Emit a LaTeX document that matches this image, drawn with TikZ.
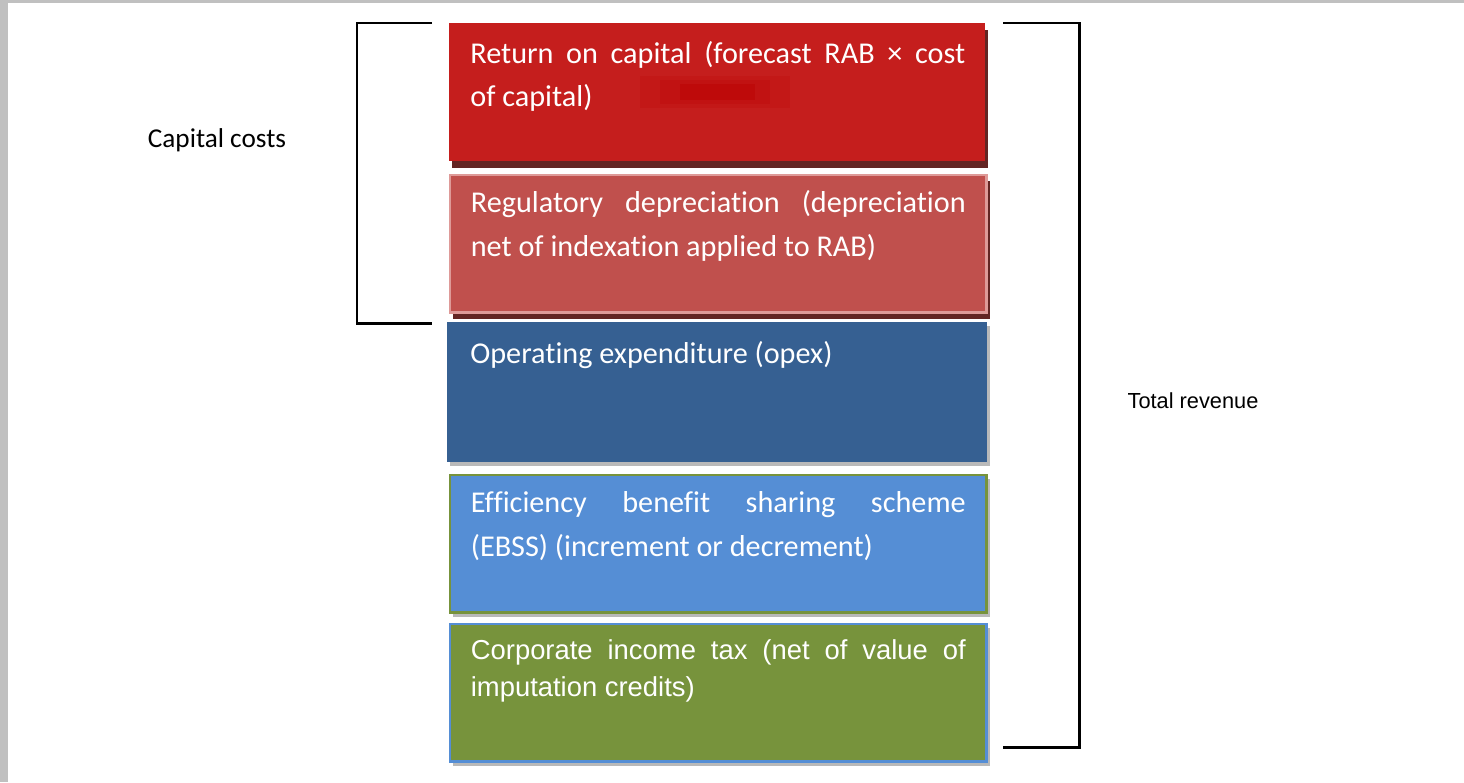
\documentclass[tikz,border=0pt]{standalone}
\usepackage{fontspec}
\newfontfamily\calibri[Ligatures=NoCommon]{Carlito}
\newfontfamily\arial{Liberation Sans}
\usetikzlibrary{calc,shadows}
\definecolor{roccol}{HTML}{C51E1D}
\definecolor{rocdark}{HTML}{BE0A0A}
\definecolor{depcol}{HTML}{C0504D}
\definecolor{depline}{HTML}{DE9A98}
\definecolor{opexcol}{HTML}{366092}
\definecolor{ebsscol}{HTML}{558ED5}
\definecolor{taxcol}{HTML}{77933C}
\definecolor{darkred}{HTML}{632523}
\definecolor{framegray}{HTML}{C0C0C0}
\tikzset{
  costbox/.style={rectangle, anchor=north west, inner sep=0pt, minimum width=10.74cm, minimum height=2.76cm},
  redshadow/.style={drop shadow={shadow xshift=0.06cm, shadow yshift=-0.13cm, fill=darkred, opacity=1}},
  grayshadow/.style={drop shadow={shadow xshift=0.06cm, shadow yshift=-0.08cm, fill=gray!55, opacity=1}},
  boxtext/.style={text=white, text width=9.9cm, align=justify, anchor=base west, inner sep=0pt, font=\calibri\fontsize{17.2}{25}\selectfont},
  bracket/.style={line width=1.7pt, black},
}
\begin{document}
\begin{tikzpicture}[x=0.02cm,y=-0.02cm]
\useasboundingbox (0,0) rectangle (1464,782);
\fill[white] (0,0) rectangle (1464,782);
\fill[framegray] (0,0) rectangle (1464,3);
\fill[framegray] (0,0) rectangle (8,782);

% the five cost blocks
\node[costbox, redshadow, fill=roccol, minimum width=10.72cm] (roc) at (449,23) {};
\fill[rocdark!30!roccol] (640,76) rectangle (790,108);
\fill[rocdark!60!roccol] (660,80) rectangle (770,104);
\fill[rocdark] (680,84) rectangle (755,100);
\node[costbox, redshadow, fill=depcol, draw=depline, line width=1.7pt] (dep) at (448.5,173.5) {};
\node[costbox, grayshadow, fill=opexcol, minimum width=10.8cm, minimum height=2.8cm] (opex) at (447,322) {};
\node[costbox, grayshadow, fill=ebsscol, draw=taxcol, line width=1.7pt] (ebss) at (448.5,473.5) {};
\node[costbox, grayshadow, fill=taxcol, draw=ebsscol, line width=1.7pt] (tax) at (448.5,622.5) {};

\node[boxtext] (roct) at ($(roc.north west)+(21,40)$) {Return on capital (forecast RAB × cost\linebreak of capital)};
\node[boxtext] (dept) at ($(dep.north west)+(22,39)$) {Regulatory depreciation (depreciation\linebreak net of indexation applied to RAB)};
\node[boxtext] (opext) at ($(opex.north west)+(23,41)$) {Operating expenditure (opex)};
\node[boxtext] (ebsst) at ($(ebss.north west)+(22,39)$) {Efficiency benefit sharing scheme\linebreak (EBSS) (increment or decrement)};
\node[boxtext, font=\arial\fontsize{15.6}{21}\selectfont] (taxt) at ($(tax.north west)+(22,37)$) {Corporate income tax (net of value of\linebreak imputation credits)};

% brackets and their labels
\coordinate (lt) at (432,23);
\coordinate (lb) at (432,323);
\draw[bracket] (lt) -- (357,23) -- (357,323) -- (lb);
\coordinate (rt) at (1003,23);
\coordinate (rb) at (1003,747);
\draw[bracket] (rt) -- (1079,23) -- (1079,747) -- (rb);

\node[font=\calibri\fontsize{15.5}{18}\selectfont] (capital) at (217,140) {Capital costs};
\node[font=\arial\fontsize{12.4}{15}\selectfont] (total) at (1193,401) {Total revenue};
\end{tikzpicture}
\end{document}
